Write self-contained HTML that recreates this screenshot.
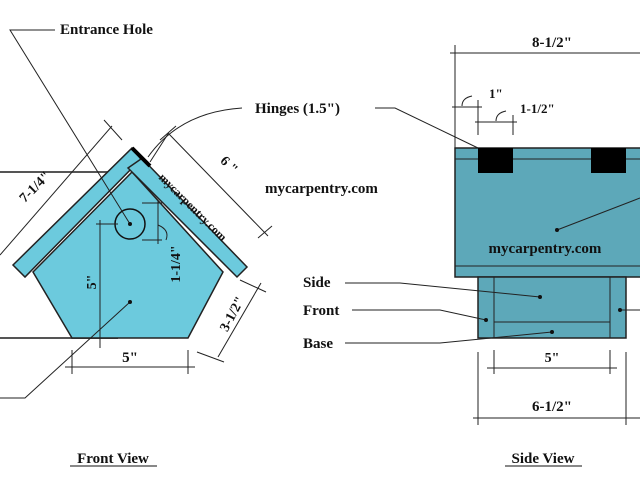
<!DOCTYPE html><html><head><meta charset="utf-8"><style>body{margin:0;background:#fff}svg{display:block}text{font-family:"Liberation Serif",serif;font-weight:bold;fill:#111}</style></head><body>
<svg width="640" height="480" viewBox="0 0 640 480">
<g stroke="#222" stroke-width="1" fill="none">
<line x1="0" y1="172" x2="118" y2="172" stroke="#555" stroke-width="2"/>
<line x1="0" y1="338" x2="118" y2="338" stroke="#555" stroke-width="2"/>
</g>
<polygon points="72,338 188,338 223,272 132,172 33,272" fill="#6ccadd" stroke="#222" stroke-width="1.5"/>
<polygon points="13,265 132,148 141,159 25,277" fill="#6ccadd" stroke="#222" stroke-width="1.5"/>
<polygon points="132,148 247,267 237,277 128,168 141,159" fill="#6ccadd" stroke="#222" stroke-width="1.5"/>
<line x1="132" y1="148" x2="150" y2="166" stroke="#000" stroke-width="4"/>
<circle cx="130" cy="224" r="15" fill="none" stroke="#111" stroke-width="1.5"/>
<g stroke="#222" stroke-width="1" fill="none">
<polyline points="55,30 10,30 130,224"/>
<polyline points="0,398 25,398 130,302"/>
<line x1="0" y1="255" x2="112" y2="126"/><line x1="104" y1="120" x2="122" y2="140"/>
<line x1="168" y1="133" x2="268" y2="236"/><line x1="160" y1="140" x2="176" y2="126"/><line x1="258" y1="238" x2="272" y2="226"/>
<line x1="150" y1="162" x2="168" y2="134"/>
<path d="M242,108 Q180,112 148,157"/>
<line x1="158" y1="200" x2="158" y2="244"/><line x1="142" y1="203" x2="162" y2="203"/><line x1="142" y1="240" x2="162" y2="240"/>
<path d="M158,225 q12,5 8,15"/>
<line x1="100" y1="220" x2="100" y2="348"/><line x1="96" y1="224" x2="118" y2="224"/>
<line x1="65" y1="367" x2="195" y2="367"/><line x1="72" y1="350" x2="72" y2="374"/><line x1="188" y1="350" x2="188" y2="374"/>
<line x1="261" y1="283" x2="218" y2="357"/><line x1="240" y1="280" x2="266" y2="292"/><line x1="197" y1="352" x2="224" y2="362"/>
</g>
<circle cx="130" cy="224" r="2" fill="#111"/><circle cx="130" cy="302" r="2" fill="#111"/>
<text x="60" y="34" font-size="15">Entrance Hole</text>
<text x="255" y="113" font-size="15">Hinges (1.5")</text>
<text x="265" y="193" font-size="15">mycarpentry.com</text>
<text transform="translate(38,190) rotate(-45)" font-size="14" text-anchor="middle">7-1/4"</text>
<text transform="translate(226,168) rotate(45)" font-size="14" text-anchor="middle">6 "</text>
<text transform="translate(190,210) rotate(45)" font-size="12" text-anchor="middle">mycarpentry.com</text>
<text transform="translate(180,264) rotate(-90)" font-size="14" text-anchor="middle">1-1/4"</text>
<text transform="translate(96,282) rotate(-90)" font-size="14" text-anchor="middle">5"</text>
<text x="130" y="362" font-size="15" text-anchor="middle">5"</text>
<text transform="translate(236,316) rotate(-62)" font-size="14" text-anchor="middle">3-1/2"</text>
<text x="113" y="463" font-size="15" text-anchor="middle">Front View</text>
<line x1="70" y1="466" x2="157" y2="466" stroke="#111"/>
<rect x="455" y="148" width="190" height="129" fill="#5da8b9" stroke="#222" stroke-width="1.5"/>
<line x1="455" y1="159" x2="640" y2="159" stroke="#222"/>
<line x1="455" y1="266" x2="640" y2="266" stroke="#222"/>
<rect x="478" y="148" width="35" height="25" fill="#000"/>
<rect x="591" y="148" width="35" height="25" fill="#000"/>
<rect x="478" y="277" width="148" height="61" fill="#5da8b9" stroke="#222" stroke-width="1.5"/>
<g stroke="#222" fill="none">
<line x1="494" y1="277" x2="494" y2="338"/><line x1="610" y1="277" x2="610" y2="338"/><line x1="494" y1="322" x2="610" y2="322"/>
<line x1="450" y1="53" x2="640" y2="53"/><line x1="455" y1="45" x2="455" y2="148"/>
<line x1="452" y1="107" x2="482" y2="107"/><line x1="475" y1="122" x2="517" y2="122"/>
<line x1="478" y1="100" x2="478" y2="135"/><line x1="513" y1="115" x2="513" y2="135"/>
<path d="M462,106 q0,-8 10,-10"/><path d="M496,121 q0,-8 10,-10"/>
<polyline points="375,108 395,108 478,148"/>
<polyline points="345,283 400,283 540,297"/>
<polyline points="352,310 440,310 486,320"/>
<polyline points="345,343 440,343 552,332"/>
<line x1="620" y1="310" x2="640" y2="310"/>
<line x1="557" y1="230" x2="640" y2="198"/>
<line x1="487" y1="368" x2="617" y2="368"/><line x1="494" y1="350" x2="494" y2="374"/><line x1="610" y1="350" x2="610" y2="374"/>
<line x1="473" y1="418" x2="640" y2="418"/><line x1="478" y1="352" x2="478" y2="425"/><line x1="626" y1="352" x2="626" y2="425"/>
</g>
<g fill="#111"><circle cx="557" cy="230" r="2"/><circle cx="540" cy="297" r="2"/><circle cx="486" cy="320" r="2"/><circle cx="552" cy="332" r="2"/><circle cx="620" cy="310" r="2"/></g>
<text x="552" y="47" font-size="15" text-anchor="middle">8-1/2"</text>
<text x="489" y="98" font-size="13">1"</text>
<text x="520" y="113" font-size="13">1-1/2"</text>
<text x="545" y="253" font-size="15" text-anchor="middle">mycarpentry.com</text>
<text x="303" y="287" font-size="15">Side</text>
<text x="303" y="315" font-size="15">Front</text>
<text x="303" y="348" font-size="15">Base</text>
<text x="552" y="362" font-size="14" text-anchor="middle">5"</text>
<text x="552" y="411" font-size="15" text-anchor="middle">6-1/2"</text>
<text x="543" y="463" font-size="15" text-anchor="middle">Side View</text>
<line x1="505" y1="466" x2="582" y2="466" stroke="#111"/>
</svg></body></html>
